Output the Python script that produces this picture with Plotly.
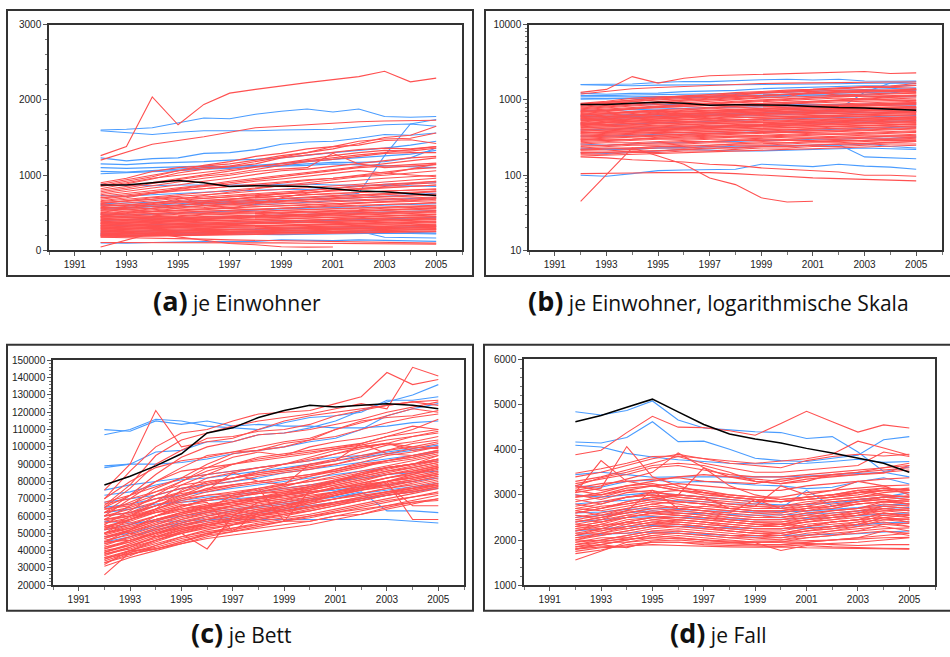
import plotly.graph_objects as go

W, H = 950, 657

years = [1992, 1993, 1994, 1995, 1996, 1997, 1998, 1999, 2000, 2001, 2002, 2003, 2004, 2005]
x_ticks = [1991, 1993, 1995, 1997, 1999, 2001, 2003, 2005]

captions = ["je Einwohner", "je Einwohner, logarithmische Skala", "je Bett", "je Fall"]
caption_keys = ["(a)", "(b)", "(c)", "(d)"]

# ---------------- je Einwohner (panels a and b) ----------------
einw_total = [870, 870, 900, 930, 900, 850, 860, 860, 850, 820, 790, 780, 760, 730]

einw_blue = [
    [1600, 1610, 1630, 1700, 1760, 1750, 1810, 1850, 1880, 1840, 1880, 1780, 1770, 1780],
    [1590, 1560, 1540, 1570, 1590, 1590, 1590, 1600, 1610, 1610, 1640, 1670, 1680, 1650],
    [1230, 1190, 1220, 1230, 1290, 1300, 1340, 1410, 1440, 1450, 1490, 1540, 1530, 1560],
    [1150, 1140, 1160, 1170, 1180, 1200, 1210, 1230, 1270, 1300, 1330, 1360, 1400, 1450],
    [1100, 1090, 1100, 1110, 1120, 1100, 1110, 1130, 1150, 1170, 1170, 1180, 1230, 1360],
    [1050, 1040, 1060, 1080, 1100, 1120, 1130, 1160, 1180, 1210, 1230, 1250, 1280, 1330],
    [620, 630, 640, 650, 660, 650, 660, 680, 700, 720, 760, 1260, 1680, 1740],
    [1020, 1030, 1040, 1060, 1080, 1090, 1110, 1120, 1130, 1150, 1140, 1120, 1110, 1100],
    [880, 870, 860, 870, 870, 860, 870, 880, 880, 870, 870, 860, 860, 850],
    [730, 720, 740, 760, 780, 790, 800, 810, 810, 830, 850, 880, 890, 900],
    [600, 590, 600, 620, 640, 620, 610, 620, 640, 660, 660, 680, 690, 700],
    [480, 470, 480, 500, 510, 520, 540, 550, 560, 570, 580, 600, 610, 620],
    [400, 410, 420, 430, 440, 450, 460, 470, 480, 490, 500, 510, 520, 530],
    [330, 330, 340, 350, 350, 360, 370, 380, 390, 400, 410, 420, 430, 440],
    [260, 250, 260, 270, 270, 280, 280, 290, 290, 300, 300, 310, 310, 320],
    [230, 220, 220, 230, 230, 240, 230, 240, 240, 250, 250, 260, 240, 230],
    [220, 225, 230, 230, 235, 240, 240, 245, 250, 250, 255, 175, 170, 165],
    [100, 97, 105, 115, 117, 118, 120, 140, 135, 130, 140, 132, 128, 120],
    [200, 195, 200, 210, 220, 215, 210, 210, 215, 220, 225, 230, 225, 220],
    [550, 560, 580, 600, 620, 640, 650, 660, 670, 690, 700, 720, 740, 760],
]

einw_red = [
    [1260, 1380, 2040, 1670, 1940, 2090, 2140, 2190, 2230, 2270, 2310, 2380, 2240, 2290],
    [1200, 1300, 1410, 1460, 1510, 1570, 1630, 1650, 1670, 1690, 1710, 1720, 1730, 1730],
    [900, 960, 1050, 1100, 1120, 1150, 1200, 1260, 1300, 1350, 1420, 1500, 1530, 1650],
    [880, 940, 1000, 1060, 1130, 1180, 1250, 1290, 1350, 1380, 1450, 1480, 1490, 1560],
    [860, 920, 980, 1060, 1100, 1120, 1180, 1240, 1300, 1380, 1400, 1460, 1470, 1420],
    [820, 880, 950, 1030, 1080, 1110, 1150, 1230, 1270, 1300, 1340, 1360, 1350, 1380],
    [800, 850, 900, 950, 1000, 1050, 1100, 1150, 1200, 1260, 1300, 1330, 1320, 1360],
    [780, 830, 890, 940, 990, 1020, 1080, 1130, 1180, 1210, 1250, 1290, 1300, 1300],
    [760, 810, 860, 910, 960, 1000, 1050, 1080, 1100, 1290, 1150, 1100, 1120, 1140],
    [740, 790, 830, 870, 920, 960, 1010, 1060, 1080, 1120, 1160, 1200, 1230, 1250],
    [720, 760, 800, 830, 870, 920, 960, 1000, 1040, 1080, 1120, 1160, 1200, 1230],
    [700, 740, 770, 810, 850, 880, 920, 950, 990, 1020, 1060, 1030, 1000, 980],
    [680, 720, 760, 800, 820, 850, 880, 910, 940, 960, 990, 1020, 1080, 1100],
    [650, 680, 710, 740, 770, 800, 830, 860, 880, 910, 940, 960, 980, 1000],
    [630, 660, 680, 720, 740, 760, 790, 810, 840, 860, 880, 910, 940, 960],
    [600, 630, 660, 690, 710, 730, 750, 780, 800, 820, 850, 870, 890, 920],
    [580, 610, 640, 660, 690, 710, 730, 750, 770, 790, 810, 830, 850, 870],
    [560, 580, 610, 640, 660, 680, 700, 720, 740, 760, 770, 790, 800, 820],
    [540, 560, 590, 610, 630, 650, 670, 690, 700, 720, 730, 750, 760, 780],
    [520, 540, 560, 580, 600, 620, 640, 650, 670, 680, 700, 710, 720, 740],
    [500, 520, 540, 560, 570, 590, 600, 620, 630, 650, 660, 670, 680, 700],
    [480, 500, 520, 530, 550, 560, 580, 590, 600, 620, 630, 640, 650, 660],
    [460, 480, 490, 510, 520, 540, 550, 560, 570, 590, 600, 610, 620, 640],
    [440, 460, 470, 490, 500, 510, 520, 540, 550, 560, 570, 580, 590, 600],
    [420, 440, 450, 460, 480, 490, 500, 510, 520, 530, 540, 560, 570, 580],
    [400, 420, 430, 440, 450, 460, 470, 490, 500, 510, 520, 530, 540, 550],
    [380, 400, 410, 420, 430, 440, 450, 460, 470, 480, 490, 500, 510, 520],
    [360, 380, 390, 400, 410, 420, 430, 440, 450, 460, 470, 480, 490, 500],
    [350, 360, 370, 380, 390, 400, 410, 420, 430, 440, 450, 460, 460, 470],
    [330, 340, 350, 360, 370, 380, 390, 400, 410, 410, 420, 430, 440, 450],
    [310, 320, 330, 340, 350, 360, 370, 370, 380, 390, 400, 410, 420, 430],
    [300, 310, 320, 330, 330, 340, 350, 360, 370, 370, 380, 390, 400, 410],
    [290, 300, 300, 310, 320, 330, 330, 340, 350, 360, 360, 370, 380, 390],
    [270, 280, 290, 300, 300, 310, 320, 320, 330, 340, 350, 350, 360, 370],
    [260, 270, 270, 280, 290, 300, 300, 310, 320, 320, 330, 340, 340, 350],
    [250, 250, 260, 270, 280, 280, 290, 300, 300, 310, 320, 320, 330, 340],
    [230, 240, 250, 250, 260, 270, 270, 280, 290, 290, 300, 310, 310, 320],
    [220, 230, 230, 240, 250, 250, 260, 270, 270, 280, 290, 290, 300, 310],
    [210, 210, 220, 230, 230, 240, 250, 250, 260, 270, 270, 280, 290, 290],
    [200, 200, 210, 210, 220, 230, 230, 240, 240, 250, 260, 260, 270, 280],
    [190, 190, 200, 200, 210, 210, 220, 230, 230, 240, 240, 250, 260, 260],
    [180, 185, 190, 195, 200, 205, 210, 215, 220, 225, 230, 235, 240, 250],
    [175, 170, 160, 155, 150, 140, 135, 125, 120, 115, 110, 100, 100, 97],
    [105, 105, 107, 108, 108, 108, 105, 100, 96, 92, 90, 88, 86, 84],
    [45, None, 230, 180, 140, 92, 75, 50, 44, 45, None, None, None, None],
    [850, 900, 960, 1000, 1040, 1080, 1120, 1160, 1200, 1230, 1270, 1300, 1340, 1380],
    [700, 720, 760, 790, 820, 850, 860, 900, 930, 960, 1000, 1050, 1080, 1150],
    [620, 660, 700, 720, 600, 560, 620, 700, 760, 800, 820, 850, 880, 900],
    [660, 700, 760, 820, 860, 900, 940, 980, 1020, 1060, 1100, 1120, 1140, 1160],
    [500, 560, 620, 680, 730, 780, 820, 860, 900, 940, 980, 1000, 1030, 1060],
    [450, 500, 560, 600, 640, 680, 720, 760, 800, 830, 860, 880, 900, 920],
    [640, 650, 680, 700, 690, 720, 740, 760, 770, 800, 820, 840, 850, 870],
    [610, 600, 630, 650, 670, 690, 700, 720, 740, 750, 770, 790, 800, 810],
    [590, 600, 610, 630, 650, 660, 680, 690, 710, 730, 740, 760, 780, 790],
    [570, 570, 590, 600, 620, 630, 650, 660, 680, 690, 700, 720, 730, 750],
    [530, 550, 560, 580, 590, 610, 620, 640, 650, 660, 680, 690, 700, 710],
    [490, 510, 520, 540, 550, 570, 580, 590, 610, 620, 630, 650, 660, 680],
    [470, 470, 490, 500, 520, 530, 540, 560, 570, 580, 590, 610, 620, 630],
    [450, 450, 460, 480, 490, 500, 510, 530, 540, 550, 560, 570, 580, 590],
    [430, 430, 440, 450, 470, 480, 490, 500, 510, 520, 530, 540, 550, 560],
    [410, 410, 420, 430, 440, 450, 460, 470, 480, 490, 500, 510, 520, 530],
    [390, 390, 400, 410, 420, 430, 440, 450, 460, 470, 480, 490, 500, 510],
    [370, 370, 380, 390, 400, 400, 410, 420, 430, 440, 450, 460, 470, 480],
    [340, 350, 360, 370, 370, 380, 390, 400, 400, 410, 420, 430, 440, 450],
    [320, 330, 330, 340, 350, 360, 360, 370, 380, 390, 390, 400, 410, 420],
    [280, 290, 300, 310, 310, 320, 330, 330, 340, 350, 350, 360, 370, 380],
    [240, 250, 260, 260, 270, 280, 290, 290, 300, 310, 310, 320, 330, 330],
    [215, 220, 230, 240, 240, 250, 260, 260, 270, 280, 280, 290, 300, 300],
    [195, 200, 205, 215, 220, 225, 235, 240, 245, 255, 260, 265, 275, 280],
    [560, 540, 520, 560, 600, 620, 640, 660, 680, 700, 720, 740, 760, 790],
    [480, 490, 510, 520, 540, 560, 540, 560, 580, 600, 620, 640, 660, 690],
    [360, 370, 380, 400, 420, 440, 460, 470, 480, 500, 520, 540, 560, 570],
    [300, 290, 300, 320, 340, 350, 360, 380, 400, 420, 440, 450, 470, 480],
]

# ---------------- je Bett (panel c) ----------------
bett_total = [78000, 83000, 89000, 96000, 108000, 111000, 117000, 121000, 124000, 123000, 124000, 125000, 124000, 122000]

bett_blue = [
    [110000, 109000, 115000, 113000, 115000, 112000, 113000, 112000, 112000, 111000, 111000, 112000, 114000, 115000],
    [107000, 110000, 116000, 115000, 112000, 111000, 110000, 114000, 117000, 118000, 120000, 127000, 127000, 129000],
    [89000, 90000, 97000, 98000, 103000, 103000, 107000, 108000, 111000, 115000, 121000, 126000, 130000, 136000],
    [88000, 90000, 90000, 91000, 93000, 96000, 98000, 100000, 103000, 105000, 110000, 118000, 122000, 125000],
    [72000, 74000, 78000, 81000, 82000, 84000, 86000, 88000, 90000, 92000, 94000, 96000, 98000, 100000],
    [68000, 70000, 72000, 76000, 78000, 80000, 82000, 85000, 87000, 89000, 91000, 93000, 95000, 97000],
    [65000, 67000, 70000, 72000, 74000, 76000, 78000, 80000, 82000, 84000, 86000, 88000, 90000, 92000],
    [60000, 62000, 66000, 69000, 71000, 72000, 74000, 76000, 78000, 80000, 82000, 84000, 85000, 86000],
    [62000, 64000, 67000, 68000, 69000, 70000, 71000, 72000, 74000, 75000, 77000, 78000, 80000, 82000],
    [57000, 56000, 57000, 57000, 58000, 58000, 58000, 58000, 58000, 58000, 58000, 58000, 57000, 56000],
    [48000, 50000, 54000, 56000, 60000, 63000, 65000, 67000, 69000, 71000, 74000, 63000, 63000, 62000],
    [52000, 55000, 58000, 60000, 62000, 64000, 66000, 68000, 70000, 71000, 73000, 75000, 77000, 79000],
    [45000, 48000, 52000, 55000, 57000, 60000, 62000, 64000, 66000, 68000, 70000, 72000, 74000, 76000],
    [75000, 78000, 80000, 82000, 84000, 86000, 88000, 90000, 92000, 94000, 95000, 97000, 99000, 101000],
]

bett_red = [
    [75000, 90000, 121000, 100000, 103000, 105000, 110000, 115000, 118000, 120000, 122000, 124000, 126000, 127000],
    [70000, 86000, 100000, 108000, 110000, 115000, 119000, 120000, 121000, 125000, 129000, 143000, 136000, 139000],
    [66000, 78000, 95000, 104000, 108000, 112000, 115000, 117000, 119000, 122000, 125000, 122000, 146000, 141000],
    [65000, 76000, 90000, 98000, 105000, 106000, 109000, 110000, 113000, 118000, 121000, 124000, 126000, 124000],
    [62000, 72000, 84000, 94000, 100000, 103000, 107000, 108000, 110000, 113000, 116000, 120000, 123000, 126000],
    [60000, 70000, 80000, 88000, 95000, 97000, 100000, 103000, 105000, 110000, 114000, 118000, 122000, 120000],
    [58000, 66000, 76000, 82000, 90000, 96000, 98000, 100000, 104000, 106000, 110000, 114000, 117000, 119000],
    [55000, 63000, 72000, 80000, 88000, 94000, 97000, 95000, 100000, 103000, 105000, 108000, 112000, 110000],
    [52000, 60000, 68000, 78000, 84000, 90000, 92000, 94000, 96000, 99000, 102000, 106000, 110000, 116000],
    [50000, 58000, 64000, 75000, 82000, 85000, 88000, 90000, 93000, 96000, 99000, 102000, 106000, 109000],
    [55000, 50000, 48000, 50000, 41000, 60000, 68000, 72000, 76000, 80000, 84000, 88000, 90000, 93000],
    [45000, 52000, 60000, 66000, 68000, 51000, 62000, 66000, 70000, 74000, 78000, 82000, 85000, 88000],
    [60000, 62000, 68000, 74000, 80000, 82000, 84000, 86000, 88000, 90000, 93000, 96000, 99000, 102000],
    [58000, 61000, 66000, 71000, 76000, 78000, 80000, 82000, 84000, 86000, 89000, 92000, 95000, 98000],
    [56000, 59000, 64000, 69000, 72000, 74000, 76000, 78000, 80000, 83000, 86000, 89000, 92000, 95000],
    [54000, 57000, 62000, 66000, 69000, 71000, 73000, 75000, 77000, 80000, 83000, 86000, 89000, 92000],
    [52000, 55000, 60000, 64000, 67000, 69000, 71000, 73000, 75000, 78000, 81000, 84000, 87000, 90000],
    [50000, 53000, 58000, 62000, 65000, 67000, 69000, 71000, 73000, 76000, 79000, 82000, 85000, 88000],
    [48000, 51000, 56000, 60000, 63000, 65000, 67000, 69000, 71000, 74000, 77000, 80000, 83000, 86000],
    [46000, 49000, 54000, 58000, 61000, 63000, 65000, 67000, 69000, 72000, 75000, 78000, 81000, 84000],
    [44000, 47000, 52000, 56000, 59000, 61000, 63000, 65000, 67000, 70000, 73000, 76000, 79000, 82000],
    [42000, 45000, 50000, 54000, 57000, 59000, 61000, 63000, 65000, 68000, 71000, 74000, 77000, 80000],
    [40000, 43000, 48000, 52000, 55000, 57000, 59000, 61000, 63000, 66000, 69000, 72000, 75000, 78000],
    [38000, 41000, 46000, 50000, 53000, 55000, 57000, 59000, 61000, 64000, 67000, 70000, 73000, 76000],
    [36000, 40000, 44000, 48000, 51000, 53000, 55000, 57000, 59000, 62000, 65000, 68000, 71000, 74000],
    [34000, 39000, 42000, 46000, 49000, 51000, 53000, 55000, 57000, 60000, 63000, 66000, 69000, 72000],
    [33000, 38000, 41000, 44000, 47000, 49000, 51000, 53000, 55000, 58000, 61000, 64000, 67000, 70000],
    [26000, 39000, 43000, 47000, 50000, 53000, 56000, 58000, 60000, 62000, 64000, 66000, 68000, 70000],
    [32000, 40000, 41000, 45000, 50000, 52000, 55000, 57000, 57000, 60000, 61000, 65000, 68000, 69000],
    [62000, 65000, 70000, 74000, 78000, 80000, 83000, 85000, 87000, 90000, 94000, 98000, 102000, 104000],
    [64000, 67000, 72000, 76000, 79000, 82000, 85000, 87000, 90000, 93000, 97000, 101000, 103000, 106000],
    [57000, 60000, 66000, 72000, 78000, 82000, 86000, 90000, 94000, 98000, 100000, 102000, 98000, 100000],
    [50000, 55000, 60000, 65000, 70000, 73000, 76000, 79000, 83000, 87000, 91000, 95000, 97000, 100000],
    [47000, 52000, 57000, 62000, 66000, 70000, 74000, 77000, 81000, 85000, 88000, 92000, 94000, 97000],
    [43000, 48000, 53000, 58000, 62000, 66000, 70000, 73000, 77000, 81000, 84000, 88000, 90000, 93000],
    [39000, 44000, 49000, 54000, 58000, 62000, 66000, 69000, 73000, 77000, 80000, 84000, 86000, 89000],
    [35000, 40000, 45000, 50000, 54000, 58000, 62000, 65000, 69000, 73000, 76000, 80000, 82000, 85000],
    [68000, 72000, 77000, 82000, 84000, 86000, 88000, 90000, 92000, 96000, 100000, 102000, 100000, 99000],
    [60000, 64000, 68000, 72000, 75000, 85000, 80000, 78000, 90000, 92000, 102000, 96000, 95000, 98000],
    [53000, 58000, 63000, 67000, 64000, 72000, 76000, 57000, 75000, 80000, 85000, 88000, 90000, 92000],
    [48000, 52000, 57000, 61000, 65000, 68000, 70000, 72000, 74000, 76000, 78000, 80000, 58000, 58000],
    [45000, 50000, 55000, 60000, 63000, 66000, 68000, 70000, 72000, 74000, 76000, 78000, 66000, 66000],
    [41000, 46000, 50000, 55000, 58000, 61000, 64000, 66000, 68000, 70000, 72000, 74000, 76000, 79000],
    [37000, 42000, 46000, 51000, 55000, 58000, 61000, 63000, 65000, 67000, 69000, 72000, 74000, 77000],
    [31000, 36000, 40000, 44000, 48000, 51000, 54000, 57000, 60000, 63000, 66000, 69000, 71000, 73000],
    [65000, 72000, 80000, 86000, 88000, 90000, 94000, 96000, 98000, 100000, 102000, 106000, 108000, 110000],
    [70000, 80000, 88000, 92000, 94000, 97000, 98000, 102000, 104000, 110000, 115000, 117000, 118000, 121000],
    [62000, 68000, 74000, 80000, 86000, 90000, 93000, 95000, 97000, 99000, 101000, 104000, 106000, 108000],
    [58000, 60000, 62000, 64000, 66000, 68000, 70000, 72000, 74000, 76000, 78000, 80000, 82000, 84000],
    [36000, 38000, 41000, 45000, 49000, 55000, 60000, 64000, 68000, 72000, 76000, 80000, 84000, 88000],
    [60000, 62000, 66000, 70000, 72000, 73000, 75000, 78000, 80000, 82000, 85000, 88000, 90000, 93000],
    [56000, 58000, 62000, 66000, 69000, 71000, 73000, 74000, 77000, 80000, 83000, 86000, 88000, 91000],
    [53000, 56000, 60000, 63000, 66000, 68000, 70000, 72000, 75000, 78000, 81000, 84000, 86000, 89000],
    [50000, 54000, 58000, 61000, 64000, 66000, 68000, 70000, 73000, 76000, 79000, 82000, 84000, 87000],
    [47000, 51000, 55000, 59000, 62000, 64000, 66000, 68000, 71000, 74000, 77000, 80000, 82000, 85000],
    [44000, 48000, 53000, 57000, 60000, 62000, 64000, 66000, 69000, 72000, 75000, 78000, 80000, 83000],
    [41000, 45000, 50000, 55000, 58000, 60000, 62000, 64000, 67000, 70000, 73000, 76000, 78000, 81000],
    [38000, 42000, 48000, 53000, 56000, 58000, 60000, 62000, 65000, 68000, 71000, 74000, 76000, 79000],
    [35000, 40000, 46000, 51000, 54000, 56000, 58000, 60000, 63000, 66000, 69000, 72000, 74000, 77000],
    [45000, 46000, 50000, 53000, 55000, 57000, 60000, 63000, 66000, 68000, 70000, 73000, 75000, 78000],
    [58000, 60000, 64000, 68000, 70000, 72000, 74000, 76000, 78000, 81000, 84000, 87000, 90000, 95000],
    [64000, 66000, 70000, 73000, 75000, 78000, 80000, 82000, 84000, 87000, 90000, 92000, 94000, 97000],
    [54000, 58000, 64000, 70000, 74000, 77000, 79000, 81000, 83000, 86000, 89000, 91000, 93000, 96000],
    [49000, 53000, 58000, 62000, 65000, 68000, 71000, 74000, 76000, 79000, 82000, 85000, 88000, 91000],
    [39000, 43000, 47000, 52000, 56000, 59000, 63000, 66000, 69000, 72000, 75000, 77000, 80000, 83000],
    [42000, 46000, 51000, 56000, 60000, 63000, 66000, 68000, 70000, 73000, 76000, 79000, 81000, 84000],
    [33000, 37000, 43000, 48000, 52000, 55000, 58000, 61000, 64000, 67000, 70000, 73000, 76000, 78000],
    [67000, 70000, 74000, 78000, 80000, 82000, 85000, 87000, 89000, 92000, 95000, 98000, 100000, 103000],
]

# ---------------- je Fall (panel d) ----------------
fall_total = [4620, 4760, 4940, 5120, 4840, 4560, 4350, 4240, 4150, 4030, 3930, 3820, 3700, 3500]

fall_blue = [
    [4840, 4770, 4870, 5080, 4660, 4480, 4440, 4400, 4380, 4250, 4290, 3950, 3520, 3620],
    [4170, 4150, 4270, 4620, 4180, 4190, 4010, 3810, 3760, 3740, 3810, 3880, 4220, 4290],
    [4100, 4060, 3920, 3840, 3780, 3740, 3700, 3690, 3690, 3700, 3740, 3790, 3720, 3740],
    [3450, 3500, 3450, 3390, 3400, 3400, 3400, 3390, 3400, 3420, 3450, 3470, 3500, 3400],
    [3200, 3170, 3300, 3330, 3280, 3300, 3260, 3220, 3200, 3140, 3170, 3290, 3380, 3240],
    [3000, 2950, 3000, 3050, 3000, 2950, 2900, 2850, 2700, 3100, 2750, 2900, 2950, 3050],
    [2800, 2850, 2880, 2900, 2870, 2850, 2800, 2800, 2780, 2790, 2820, 2880, 2950, 2960],
    [2600, 2620, 2680, 2700, 2680, 2650, 2640, 2620, 2630, 2640, 2680, 2720, 2780, 2800],
    [2400, 2450, 2500, 2520, 2500, 2480, 2460, 2450, 2460, 2480, 2500, 2540, 2580, 2600],
    [2200, 2250, 2300, 2320, 2300, 2280, 2270, 2260, 2250, 2270, 2300, 2330, 2380, 2400],
    [2100, 2120, 2150, 2180, 2150, 2120, 2100, 2090, 2100, 2120, 2130, 2140, 2180, 2200],
    [2500, 2550, 2600, 2650, 2600, 2580, 2560, 2550, 2560, 2580, 2600, 2640, 2700, 2720],
]

fall_red = [
    [3890, 3990, 4380, 4740, 4500, 4490, 4420, 4320, 4580, 4850, 4620, 4390, 4550, 4480],
    [3480, 3580, 3700, 3850, 3860, 3800, 3750, 3700, 3750, 3800, 3900, 4190, 4040, 3880],
    [3400, 3500, 3650, 3800, 3900, 3800, 3700, 3650, 3600, 3760, 3850, 3900, 3860, 3900],
    [3300, 3400, 3550, 3700, 3850, 3700, 3600, 3500, 3500, 3550, 3600, 3650, 3950, 3850],
    [3200, 3380, 3500, 3650, 3700, 3650, 3500, 3300, 3250, 3300, 3450, 3500, 3550, 3600],
    [3050, 3760, 3300, 3200, 3100, 3000, 2950, 2900, 2850, 2900, 2950, 3000, 3100, 3150],
    [3050, 3150, 4070, 3400, 3200, 3050, 2950, 2900, 2850, 2900, 2950, 3050, 3150, 3100],
    [3100, 3200, 3350, 3500, 3930, 3600, 3400, 3300, 3250, 3350, 3400, 3450, 3500, 3550],
    [2950, 3050, 3200, 3300, 3400, 3450, 3400, 3350, 3300, 3400, 3450, 3500, 3600, 3700],
    [2850, 2950, 3100, 3200, 3250, 3200, 3150, 3100, 3100, 3200, 3250, 3300, 3350, 3380],
    [2700, 2800, 2950, 3050, 3100, 3050, 3000, 2950, 2950, 3050, 3100, 3150, 3200, 3220],
    [2600, 2700, 2850, 2950, 3000, 2950, 2900, 2850, 2850, 2950, 3000, 3050, 3100, 3120],
    [2500, 2600, 2700, 2800, 2850, 2800, 2750, 2700, 2700, 2800, 2850, 2900, 2950, 2980],
    [2400, 2500, 2600, 2700, 2750, 2700, 2650, 2600, 2600, 2700, 2750, 2800, 2850, 2870],
    [2300, 2400, 2500, 2600, 2650, 2600, 2550, 2500, 2500, 2600, 2650, 2700, 2750, 2770],
    [2200, 2300, 2400, 2500, 2550, 2500, 2450, 2400, 2400, 2500, 2550, 2600, 2650, 2670],
    [2100, 2200, 2300, 2400, 2450, 2400, 2350, 2300, 2300, 2400, 2450, 2500, 2550, 2570],
    [2000, 2100, 2200, 2300, 2350, 2300, 2250, 2200, 2200, 2300, 2350, 2400, 2450, 2470],
    [1900, 2000, 2100, 2200, 2250, 2200, 2150, 2100, 2100, 2200, 2250, 2300, 2350, 2370],
    [1800, 1900, 2000, 2100, 2150, 2100, 2050, 2000, 2000, 2100, 2150, 2200, 2250, 2270],
    [1560, 1760, 1950, 2000, 2050, 2000, 1950, 1950, 1950, 1950, 2000, 2050, 2100, 2150],
    [1700, 1780, 1900, 1950, 1950, 1900, 1880, 1870, 1860, 1900, 1920, 1950, 2000, 2050],
    [1750, 1830, 1850, 1950, 1950, 1930, 1920, 1900, 1900, 1930, 1900, 1880, 1900, 1900],
    [1850, 1900, 1830, 1980, 2000, 1960, 1950, 1940, 1770, 1880, 1850, 1830, 1820, 1810],
    [3150, 3250, 3300, 3350, 3380, 3300, 3280, 3250, 3350, 3400, 3420, 3450, 3480, 3650],
    [2950, 3000, 3100, 3050, 3000, 2950, 2700, 2750, 3200, 3000, 3100, 3300, 3200, 3000],
    [2650, 2750, 2800, 2900, 3000, 3600, 3200, 3000, 2900, 2950, 3000, 3100, 3000, 2950],
    [2450, 2550, 2650, 3100, 2700, 2650, 2600, 2900, 2700, 2650, 2750, 2850, 2900, 2800],
    [2550, 2450, 2650, 2600, 2700, 2750, 2700, 2650, 2650, 2750, 2700, 2800, 2850, 2900],
    [2350, 2450, 2550, 2550, 2600, 2550, 2500, 2450, 2450, 2550, 2550, 2650, 2700, 2650],
    [2250, 2350, 2350, 2450, 2500, 2450, 2400, 2350, 2350, 2450, 2500, 2550, 2600, 2500],
    [2150, 2250, 2250, 2350, 2400, 2350, 2300, 2250, 2250, 2350, 2400, 2450, 2500, 2400],
    [2050, 2150, 2150, 2250, 2300, 2250, 2200, 2150, 2150, 2250, 2300, 2350, 2400, 2300],
    [1950, 2050, 2050, 2150, 2200, 2150, 2100, 2050, 2050, 2150, 2200, 2250, 2300, 2200],
    [1850, 1950, 1950, 2050, 2100, 2050, 2000, 1950, 1950, 2050, 2100, 2150, 2200, 2100],
    [2750, 2850, 2950, 3000, 2950, 2900, 2800, 2750, 2750, 2850, 2900, 2950, 3050, 3100],
    [3250, 3350, 3450, 3600, 3650, 3550, 3450, 3400, 3400, 3450, 3500, 3550, 3600, 3650],
    [2300, 2250, 2400, 2350, 2450, 2400, 2350, 2300, 2350, 2300, 2400, 2450, 2500, 2550],
    [2000, 1980, 2020, 2050, 2030, 2000, 1980, 1960, 1970, 1990, 2000, 2020, 2050, 2060],
    [1800, 1850, 1870, 1900, 1880, 1860, 1850, 1840, 1850, 1830, 1820, 1810, 1800, 1800],
    [3000, 2900, 3050, 3100, 2950, 2900, 2850, 2800, 2750, 2800, 2900, 2950, 3000, 2950],
    [2900, 2800, 2950, 3000, 2900, 2850, 2800, 2750, 2700, 2750, 2850, 2900, 2950, 2900],
    [2800, 2700, 2850, 2950, 2850, 2800, 2700, 2650, 2650, 2700, 2800, 2850, 2900, 2850],
    [2700, 2650, 2750, 2850, 2800, 2700, 2650, 2600, 2550, 2650, 2700, 2800, 2850, 2800],
    [2650, 2550, 2700, 2800, 2700, 2650, 2600, 2550, 2500, 2600, 2650, 2700, 2800, 2750],
    [2550, 2500, 2600, 2700, 2650, 2600, 2500, 2450, 2450, 2500, 2600, 2650, 2750, 2700],
    [2450, 2400, 2500, 2600, 2550, 2500, 2450, 2400, 2350, 2450, 2500, 2600, 2700, 2650],
    [2350, 2300, 2450, 2500, 2500, 2450, 2400, 2350, 2300, 2400, 2450, 2550, 2650, 2600],
    [2250, 2200, 2350, 2450, 2400, 2350, 2300, 2250, 2250, 2300, 2400, 2450, 2600, 2550],
    [2150, 2150, 2250, 2350, 2350, 2300, 2250, 2200, 2150, 2250, 2300, 2400, 2550, 2500],
    [2050, 2100, 2200, 2300, 2300, 2250, 2200, 2150, 2100, 2200, 2250, 2350, 2500, 2450],
    [1950, 2000, 2100, 2200, 2200, 2150, 2100, 2100, 2050, 2100, 2200, 2300, 2450, 2400],
    [1900, 1950, 2050, 2150, 2150, 2100, 2050, 2050, 2000, 2050, 2100, 2200, 2350, 2300],
    [2400, 2500, 2650, 2750, 2700, 2650, 2550, 2500, 2500, 2550, 2650, 2700, 2850, 2800],
    [2300, 2400, 2550, 2650, 2600, 2550, 2450, 2400, 2400, 2450, 2550, 2600, 2750, 2700],
    [2600, 2700, 2800, 2900, 2850, 2800, 2700, 2650, 2600, 2700, 2750, 2850, 2950, 2900],
    [2200, 2350, 2500, 2600, 2550, 2500, 2400, 2350, 2350, 2400, 2500, 2550, 2700, 2650],
    [2100, 2250, 2400, 2500, 2450, 2400, 2300, 2250, 2250, 2300, 2400, 2450, 2600, 2550],
    [2000, 2150, 2300, 2400, 2350, 2300, 2200, 2150, 2150, 2200, 2300, 2350, 2500, 2450],
    [1800, 1900, 2000, 2100, 2050, 2000, 1950, 1900, 1900, 1950, 2000, 2050, 2200, 2150],
    [3200, 3100, 3200, 3250, 3150, 3100, 3000, 2950, 2900, 2950, 3000, 3100, 3150, 3100],
    [3100, 3000, 3150, 3200, 3100, 3050, 2950, 2900, 2850, 2900, 2950, 3050, 3100, 3050],
]

RED = "#ff5050"
BLUE = "#4a9cff"
BLACK = "#000000"


def px_x(p):
    return p / W


def px_y(p):
    return 1 - p / H


panels = [
    ("", einw_blue, einw_red, einw_total, (49, 462), (19, 249)),
    ("2", einw_blue, einw_red, einw_total, (529, 942), (19, 249)),
    ("3", bett_blue, bett_red, bett_total, (53, 464), (361, 590)),
    ("4", fall_blue, fall_red, fall_total, (524, 935), (360, 590)),
]

fig = go.Figure()

for suffix, blue, red, total, (xl, xr), (yt, yb) in panels:
    xa = "x" + suffix
    ya = "y" + suffix
    for s in blue:
        fig.add_trace(go.Scatter(x=years, y=s, mode="lines", xaxis=xa, yaxis=ya,
                                 line=dict(color=BLUE, width=1.1), connectgaps=True,
                                 showlegend=False, hoverinfo="skip"))
    for s in red:
        fig.add_trace(go.Scatter(x=years, y=s, mode="lines", xaxis=xa, yaxis=ya,
                                 line=dict(color=RED, width=1.1), connectgaps=True,
                                 showlegend=False, hoverinfo="skip"))
    fig.add_trace(go.Scatter(x=years, y=total, mode="lines", xaxis=xa, yaxis=ya,
                             line=dict(color=BLACK, width=1.5),
                             showlegend=False, hoverinfo="skip"))

tick_font = dict(family="Liberation Sans, Arial, sans-serif", size=10, color="#222")
axis_common = dict(showline=True, linecolor="#333", linewidth=1.5, mirror=True,
                   showgrid=False, zeroline=False, ticks="outside", ticklen=4,
                   tickcolor="#555", tickfont=tick_font)

layout = dict(width=W, height=H, margin=dict(l=0, r=0, t=0, b=0),
              paper_bgcolor="white", plot_bgcolor="white", showlegend=False)

yspecs = [
    dict(range=[0, 3000], tickvals=[0, 1000, 2000, 3000], tickformat="d",
         minor=dict(dtick=200, ticks="outside", ticklen=2, tickcolor="#777")),
    dict(type="log", range=[1, 4], tickvals=[10, 100, 1000, 10000],
         ticktext=["10", "100", "1000", "10000"],
         minor=dict(dtick="D1", ticks="outside", ticklen=2, tickcolor="#777")),
    dict(range=[20000, 150000], tickvals=list(range(20000, 150001, 10000)), tickformat="d",
         minor=dict(dtick=2000, ticks="outside", ticklen=2, tickcolor="#777")),
    dict(range=[1000, 6000], tickvals=[1000, 2000, 3000, 4000, 5000, 6000], tickformat="d",
         minor=dict(dtick=200, ticks="outside", ticklen=2, tickcolor="#777")),
]

for i, (suffix, blue, red, total, (xl, xr), (yt, yb)) in enumerate(panels):
    xkey = "xaxis" + suffix
    ykey = "yaxis" + suffix
    layout[xkey] = dict(axis_common, domain=[px_x(xl), px_x(xr)], range=[1990, 2006],
                        anchor="y" + suffix, tickvals=x_ticks,
                        ticktext=[str(v) for v in x_ticks],
                        minor=dict(dtick=1, tick0=1990, ticks="outside", ticklen=3, tickcolor="#777"))
    layout[ykey] = dict(axis_common, domain=[px_y(yb), px_y(yt)], anchor="x" + suffix,
                        **yspecs[i])

fig.update_layout(**layout)

frames = [(7, 4, 473, 275), (485, 4, 951, 275), (7, 345, 473, 616), (484, 345, 951, 616)]
for (x0, y0, x1, y1) in frames:
    fig.add_shape(type="rect", xref="paper", yref="paper",
                  x0=px_x(x0), x1=px_x(x1), y0=px_y(y1), y1=px_y(y0),
                  line=dict(color="#333", width=2), fillcolor="rgba(0,0,0,0)")

cap_pos = [(237, 300), (718, 300), (241, 638), (718, 638)]
for key, text, (cx, cy) in zip(caption_keys, captions, cap_pos):
    fig.add_annotation(xref="paper", yref="paper", x=px_x(cx), y=px_y(cy),
                       text="<span style='font-size:27px'><b>" + key + "</b></span> " + text,
                       showarrow=False, xanchor="center", yanchor="middle",
                       font=dict(family="Open Sans, sans-serif", size=21, color="#111"))

post = (
    "document.documentElement.style.margin='0';"
    "document.documentElement.style.overflow='hidden';"
    "document.body.style.margin='0';"
    "document.body.style.overflow='hidden';"
    "var gd=document.getElementsByClassName('plotly-graph-div')[0];"
    "gd.style.position='fixed';gd.style.left='0px';gd.style.top='0px';"
)

fig.write_html("out.html", config={"displayModeBar": False}, post_script=post)
